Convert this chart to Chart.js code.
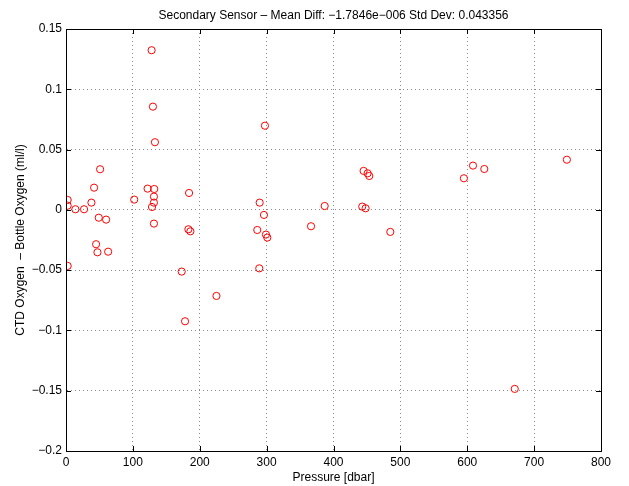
<!DOCTYPE html>
<html>
<head>
<meta charset="utf-8">
<script src="https://cdn.jsdelivr.net/npm/chart.js@4/dist/chart.umd.min.js"></script>
<style>
  html, body { margin: 0; padding: 0; background: #fff; }
  canvas { display: block; }
</style>
</head>
<body>
<canvas id="c" width="629" height="486"></canvas>
<script>
// pressure [dbar] and CTD - bottle oxygen difference (ml/l)
const pressure = [
  2.5, 2.5, 14, 27, 38, 42, 51, 49, 60, 102,
  128, 130, 133, 122, 132, 131.5, 131.5, 128.6, 131.5, 184,
  183, 186, 45, 47, 63, 2.5, 173, 225, 178, 297.5,
  289.6, 296, 286, 299, 301, 289, 366.4, 386.8, 445, 451,
  453.5, 443, 448, 485, 595, 608.6, 625.5, 749, 671
];
const oxyDiff = [
  0.0082, 0.0035, 0.0005, 0.0005, 0.006, 0.0184, 0.0337, -0.0065, -0.0081, 0.0085,
  0.1324, 0.0856, 0.0561, 0.0176, 0.0173, 0.011, 0.006, 0.0024, -0.0114, 0.014,
  -0.0161, -0.0178, -0.0285, -0.0352, -0.0347, -0.0465, -0.0512, -0.0714, -0.0924, 0.0698,
  0.006, -0.0042, -0.0167, -0.0205, -0.023, -0.0485, -0.0136, 0.0032, 0.0323, 0.0303,
  0.0281, 0.0027, 0.0013, -0.0183, 0.0262, 0.0367, 0.0339, 0.0416, -0.1485
];
const xTicks = [0, 100, 200, 300, 400, 500, 600, 700, 800];
const yTicks = [-0.2, -0.15, -0.1, -0.05, 0, 0.05, 0.1, 0.15];
const titleText = 'Secondary Sensor \u2013 Mean Diff: \u22121.7846e\u2212006 Std Dev: 0.043356';

const FONT = 'Liberation Sans, Arial, Helvetica, sans-serif';
const minus = v => String(v).replace('-', '\u2212');

const pts = pressure.map((p, i) => ({ x: p, y: oxyDiff[i] }));

// matlab style box with inward ticks, title centred over the axes
const boxPlugin = {
  id: 'box',
  afterDraw(chart) {
    const { ctx, chartArea: a, scales } = chart;
    ctx.save();
    ctx.strokeStyle = '#000';
    ctx.lineWidth = 1;
    ctx.beginPath();
    const tl = 5;
    xTicks.forEach(v => {
      const px = Math.round(scales.x.getPixelForValue(v)) + 0.5;
      ctx.moveTo(px, a.bottom); ctx.lineTo(px, a.bottom - tl);
      ctx.moveTo(px, a.top); ctx.lineTo(px, a.top + tl);
    });
    yTicks.forEach(v => {
      const py = Math.round(scales.y.getPixelForValue(v)) + 0.5;
      ctx.moveTo(a.left, py); ctx.lineTo(a.left + tl, py);
      ctx.moveTo(a.right, py); ctx.lineTo(a.right - tl, py);
    });
    ctx.stroke();
    ctx.strokeRect(Math.round(a.left) + 0.5, Math.round(a.top) + 0.5,
      Math.round(a.right - a.left), Math.round(a.bottom - a.top));

    ctx.fillStyle = '#000';
    ctx.font = '12px ' + FONT;
    ctx.textAlign = 'center';
    ctx.textBaseline = 'middle';
    ctx.fillText(titleText, (a.left + a.right) / 2, 16);
    ctx.restore();
  }
};

new Chart(document.getElementById('c'), {
  type: 'scatter',
  data: {
    datasets: [{
      data: pts,
      pointStyle: 'circle',
      pointRadius: 3.6,
      borderWidth: 1,
      borderColor: '#ff0000',
      backgroundColor: 'rgba(0,0,0,0)'
    }]
  },
  options: {
    responsive: false,
    animation: false,
    layout: { padding: { left: 0, right: 28, top: 29, bottom: 0 } },
    plugins: {
      legend: { display: false },
      tooltip: { enabled: false },
      title: { display: false }
    },
    scales: {
      x: {
        type: 'linear',
        min: 0, max: 800,
        afterBuildTicks: s => { s.ticks = xTicks.map(v => ({ value: v })); },
        afterFit: s => { s.height = 35; },
        grid: { color: '#8a8a8a', lineWidth: 1, drawTicks: false },
        border: { display: true, color: '#000', dash: [1, 3] },
        ticks: { color: '#000', font: { family: FONT, size: 12 }, padding: 4, maxRotation: 0,
                 callback: v => minus(v) },
        title: { display: true, text: 'Pressure [dbar]', color: '#000',
                 font: { family: FONT, size: 12 }, padding: { top: 0, bottom: 1.5 } }
      },
      y: {
        type: 'linear',
        min: -0.2, max: 0.15,
        afterBuildTicks: s => { s.ticks = yTicks.map(v => ({ value: v })); },
        afterFit: s => { s.width = 66; },
        grid: { color: '#8a8a8a', lineWidth: 1, drawTicks: false },
        border: { display: true, color: '#000', dash: [1, 3] },
        ticks: { color: '#000', font: { family: FONT, size: 12 }, padding: 4,
                 callback: v => minus(v) },
        title: { display: true, text: 'CTD Oxygen  \u2013 Bottle Oxygen (ml/l)', color: '#000',
                 font: { family: FONT, size: 12 }, padding: { top: 13, bottom: 0 } }
      }
    }
  },
  plugins: [boxPlugin]
});
</script>
</body>
</html>
